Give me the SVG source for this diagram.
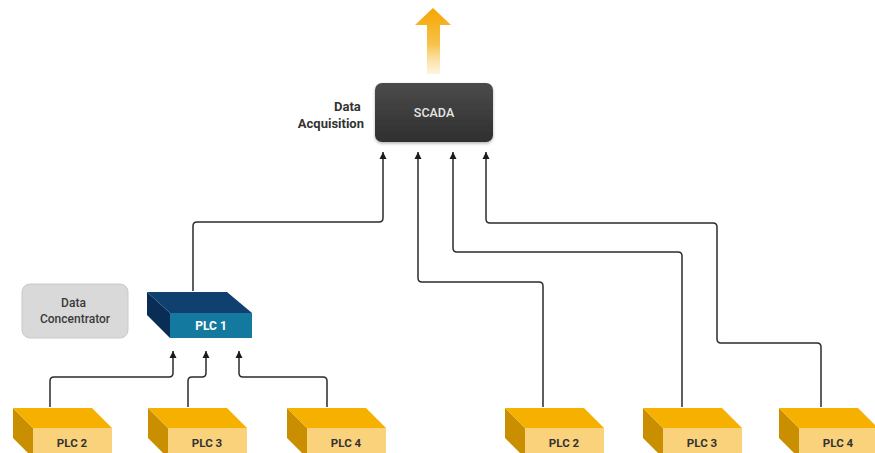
<svg xmlns="http://www.w3.org/2000/svg" width="875" height="453" viewBox="0 0 875 453">
  <defs>
    <style>
      .lbl { font-family: Roboto, "Liberation Sans", sans-serif; font-weight: 700; }
      .wire { fill: none; stroke: #2b2b2b; stroke-width: 1.5; }
      .y-top { fill: #f5b000; }
      .y-side { fill: #c98f00; }
      .y-front { fill: #fbd27c; }
      .y-text { font-size: 11.5px; fill: #333; text-anchor: middle; }
    </style>
    <marker id="tip" viewBox="0 0 10 10" refX="10" refY="5" markerWidth="7" markerHeight="8" markerUnits="userSpaceOnUse" orient="auto">
      <path d="M0,0 L10,5 L0,10 z" fill="#1a1a1a"/>
    </marker>
    <linearGradient id="scadaFill" x1="0" y1="0" x2="0" y2="1">
      <stop offset="0" stop-color="#4b4b4b"/>
      <stop offset="1" stop-color="#2f2f2f"/>
    </linearGradient>
    <linearGradient id="upFill" x1="0" y1="0" x2="0" y2="1">
      <stop offset="0" stop-color="#f5a500"/>
      <stop offset="0.55" stop-color="#f8c24a"/>
      <stop offset="1" stop-color="#fdeec8" stop-opacity="0.6"/>
    </linearGradient>
    <filter id="soft" x="-10%" y="-10%" width="120%" height="130%">
      <feDropShadow dx="0" dy="1.5" stdDeviation="1.5" flood-color="#000" flood-opacity="0.3"/>
    </filter>
    <!-- yellow field PLC block, origin at top-left corner of top face -->
    <g id="ylwBlock">
      <polygon class="y-side" points="0,0 20,20 20,50 0,30"/>
      <polygon class="y-top" points="0,0 79,0 99,20 20,20"/>
      <rect class="y-front" x="20" y="20" width="79" height="30"/>
    </g>
  </defs>

  <rect width="875" height="453" fill="#ffffff"/>

  <!-- outbound data arrow -->
  <g id="uplink">
    <polygon points="433,8 451,25 440,25 440,74 427,74 427,25 415,25" fill="url(#upFill)"/>
  </g>

  <!-- SCADA -->
  <g id="scada">
    <rect x="375" y="83" width="118" height="59" rx="7" fill="url(#scadaFill)" filter="url(#soft)"/>
    <text x="434" y="117" font-family="Roboto, 'Liberation Sans', sans-serif" font-weight="500" font-size="12.5" fill="#e6e6e6" text-anchor="middle">SCADA</text>
  </g>
  <g id="acq-label">
    <text class="lbl" font-size="13" fill="#333" text-anchor="end">
      <tspan x="364" y="111">Data</tspan>
      <tspan x="364" y="128">Acquisition</tspan>
    </text>
  </g>

  <!-- Data concentrator -->
  <g id="concentrator">
    <rect x="22" y="284" width="106" height="54" rx="8" fill="#d9d9d9" stroke="#c9c9c9" stroke-width="1"/>
    <text font-family="Roboto, 'Liberation Sans', sans-serif" font-weight="500" font-size="12" fill="#3a3a3a" text-anchor="middle">
      <tspan x="75" y="307">Data</tspan>
      <tspan x="75" y="323">Concentrator</tspan>
    </text>
  </g>

  <!-- PLC 1 -->
  <g id="plc1">
    <polygon points="147,292 170,313 170,338 147,315" fill="#0a2d55"/>
    <polygon points="147,292 227,292 252,313 170,313" fill="#10406f"/>
    <rect x="170" y="313" width="82" height="25" fill="#13799f"/>
    <text class="lbl" x="211" y="330" font-size="12" fill="#ffffff" text-anchor="middle">PLC 1</text>
  </g>

  <!-- field PLCs, left group -->
  <g id="plc2-left">
    <use href="#ylwBlock" x="13" y="408"/>
    <text class="lbl y-text" x="72" y="447">PLC 2</text>
  </g>
  <g id="plc3-left">
    <use href="#ylwBlock" x="148" y="408"/>
    <text class="lbl y-text" x="207" y="447">PLC 3</text>
  </g>
  <g id="plc4-left">
    <use href="#ylwBlock" x="287" y="408"/>
    <text class="lbl y-text" x="346" y="447">PLC 4</text>
  </g>

  <!-- field PLCs, right group -->
  <g id="plc2-right">
    <use href="#ylwBlock" x="505" y="408"/>
    <text class="lbl y-text" x="564" y="447">PLC 2</text>
  </g>
  <g id="plc3-right">
    <use href="#ylwBlock" x="643" y="408"/>
    <text class="lbl y-text" x="702" y="447">PLC 3</text>
  </g>
  <g id="plc4-right">
    <use href="#ylwBlock" x="779" y="408"/>
    <text class="lbl y-text" x="838" y="447">PLC 4</text>
  </g>

  <!-- connectors -->
  <g id="connectors">
    <path class="wire" marker-end="url(#tip)" d="M193,291 V226 Q193,222 197,222 H379 Q383,222 383,218 V152"/>
    <path class="wire" marker-end="url(#tip)" d="M543,407 V286 Q543,282 539,282 H422 Q418,282 418,278 V152"/>
    <path class="wire" marker-end="url(#tip)" d="M682,407 V256 Q682,252 678,252 H457 Q453,252 453,248 V152"/>
    <path class="wire" marker-end="url(#tip)" d="M821,407 V347 Q821,343 817,343 H721 Q717,343 717,339 V227 Q717,223 713,223 H490 Q486,223 486,219 V152"/>

    <path class="wire" marker-end="url(#tip)" d="M50,407 V381 Q50,377 54,377 H169 Q173,377 173,373 V351"/>
    <path class="wire" marker-end="url(#tip)" d="M188,407 V381 Q188,377 192,377 H202 Q206,377 206,373 V351"/>
    <path class="wire" marker-end="url(#tip)" d="M327,407 V381 Q327,377 323,377 H243 Q239,377 239,373 V351"/>
  </g>
</svg>
